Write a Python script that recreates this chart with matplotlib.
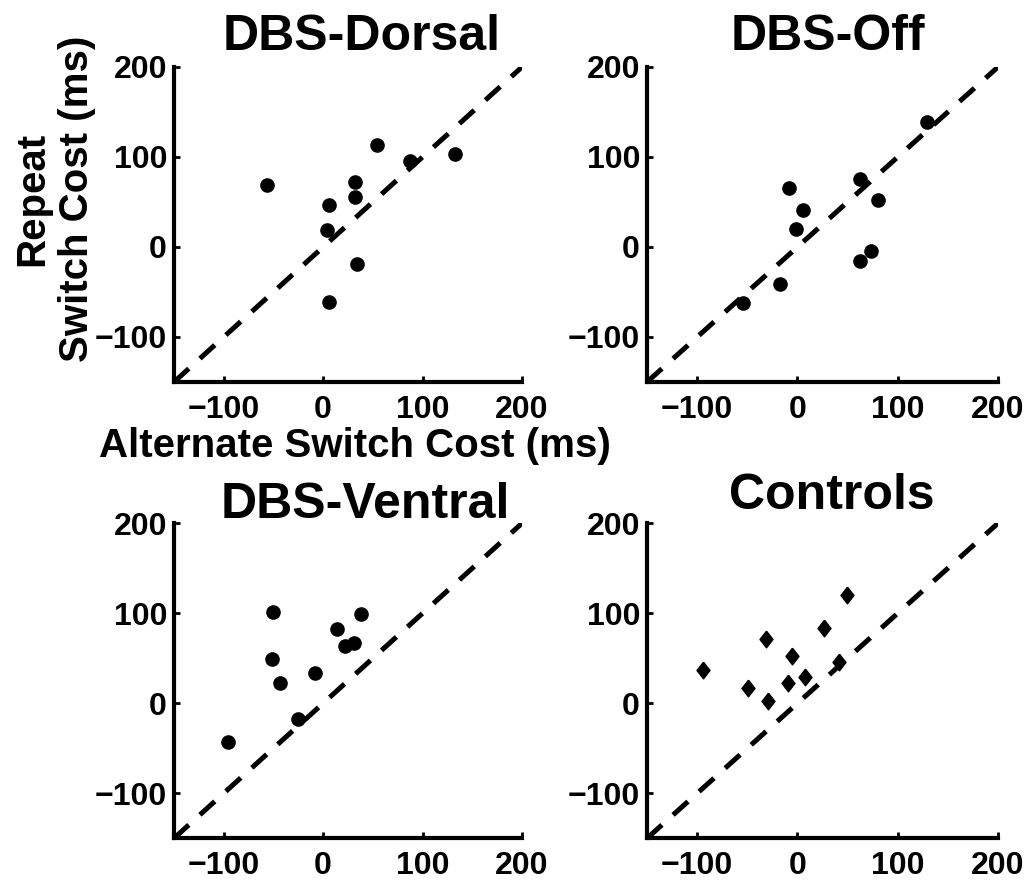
import matplotlib
matplotlib.use('Agg')
import matplotlib.pyplot as plt
import numpy as np

plt.rcParams['font.family'] = ['Liberation Sans', 'DejaVu Sans']
plt.rcParams['font.weight'] = 'bold'

# data (alternate cost, repeat cost), ms
dorsal_x = [-56, 6, 4, 6, 32, 32, 34, 54, 87, 133]
dorsal_y = [69, 47, 19, -61, 72, 56, -19, 113, 95, 103]

off_x = [-8, 6, -1, -17, -54, 62, 80, 73, 62, 129]
off_y = [65, 41, 20, -41, -62, 75, 52, -4, -16, 139]

ventral_x = [-96, -50, -51, -43, -8, -25, 14, 22, 31, 38]
ventral_y = [-43, 101, 49, 22, 34, -18, 83, 64, 67, 99]

controls_x = [-94, -49, -31, -29, -9, -5, 8, 26, 41, 49]
controls_y = [37, 17, 71, 3, 23, 52, 29, 84, 46, 120]

titles = ['DBS-Dorsal', 'DBS-Off', 'DBS-Ventral', 'Controls']
ticks = [-100, 0, 100, 200]
lims = [-150, 200]

fig = plt.figure(figsize=(10.29, 8.81), dpi=100)

boxes = [[0.1691, 0.5664, 0.3382, 0.3576],
         [0.6288, 0.5664, 0.3411, 0.3576],
         [0.1691, 0.0485, 0.3382, 0.3576],
         [0.6288, 0.0485, 0.3411, 0.3576]]
title_pos = [(0.539, 1.054), (0.516, 1.054), (0.549, 1.016), (0.525, 1.046)]

diamond = [(0, 1), (0.78, 0), (0, -1), (-0.78, 0), (0, 1)]
series = [(dorsal_x, dorsal_y, 'o'), (off_x, off_y, 'o'),
          (ventral_x, ventral_y, 'o'), (controls_x, controls_y, diamond)]

for i in range(4):
    ax = fig.add_axes(boxes[i])
    xs, ys, mk = series[i]
    ax.plot(lims, lims, color='black', lw=3.6, dashes=(4, 3), zorder=1)
    if mk == 'o':
        ax.plot(xs, ys, 'o', color='black', ms=9.5, zorder=2)
    else:
        ax.plot(xs, ys, linestyle='none', marker=mk, color='black', ms=12, zorder=2)
    ax.set_xlim(lims)
    ax.set_ylim(lims)
    ax.set_xticks(ticks)
    ax.set_yticks(ticks)
    ax.set_xticklabels(['\u2212100', '0', '100', '200'])
    ax.set_yticklabels(['\u2212100', '0', '100', '200'])
    for s in ['top', 'right']:
        ax.spines[s].set_visible(False)
    for s in ['left', 'bottom']:
        ax.spines[s].set_linewidth(3)
    ax.tick_params(direction='in', length=4, width=2, labelsize=23)
    ax.tick_params(axis='x', pad=9)
    ax.tick_params(axis='y', pad=5)
    tx, ty = title_pos[i]
    ax.text(tx, ty, titles[i], transform=ax.transAxes, ha='center',
            va='baseline', fontsize=36, fontweight='bold')
    if i == 0:
        ax.set_xlabel('Alternate Switch Cost (ms)', fontsize=29,
                      fontweight='bold')
        ax.xaxis.set_label_coords(0.52, -0.142)

fig.text(0.053, 0.774, 'Repeat\nSwitch Cost (ms)', rotation=90, ha='center',
         va='center', fontsize=29, fontweight='bold', multialignment='center')

fig.savefig('out.png', dpi=100)
